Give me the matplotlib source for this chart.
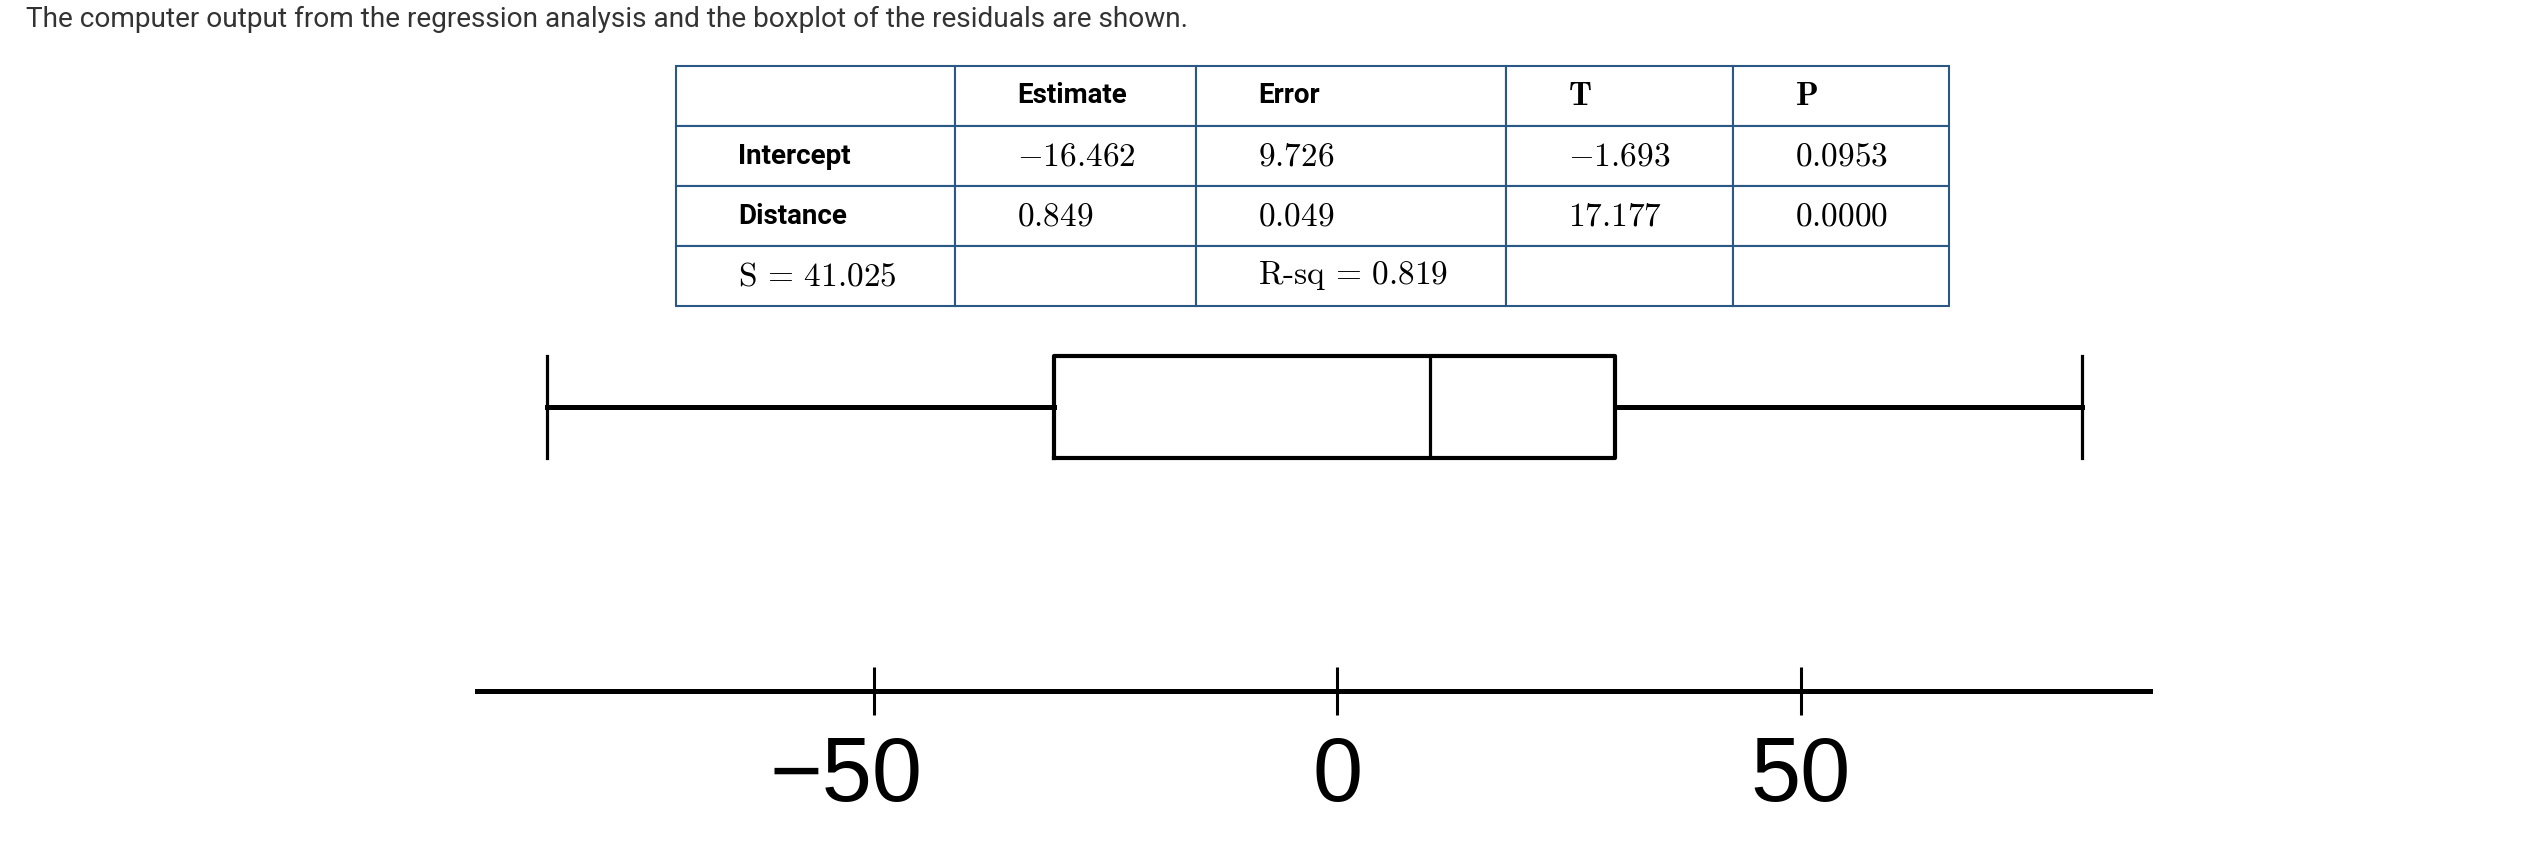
import matplotlib
matplotlib.use('Agg')
import matplotlib.pyplot as plt
import matplotlib.transforms as mtransforms

# regression output
terms = ['Intercept', 'Distance']
estimates = ['-16.462', '0.849']
std_errors = ['9.726', '0.049']
t_values = ['-1.693', '17.177']
p_values = ['0.0953', '0.0000']
s_value = '41.025'
r_sq = '0.819'
col_headers = ['', 'Estimate', 'Error', 'T', 'P']

# residual boxplot (five number summary)
resid_min = -85.3
resid_q1 = -30.5
resid_med = 10.0
resid_q3 = 30.0
resid_max = 80.4
tick_values = [-50, 0, 50]
tick_labels = ['\u221250', '0', '50']

plt.rcParams['mathtext.fontset'] = 'cm'

W, H = 2542, 856
fig = plt.figure(figsize=(W / 100, H / 100), dpi=100)

fig.text(26 / W, 1 - 19 / H,
         'The computer output from the regression analysis and the boxplot of the residuals are shown.',
         fontsize=20.2, family='Roboto', color='#333333', va='center', ha='left')

#%% table
tab_ax = fig.add_axes([0, 0, 1, 1])
tab_ax.axis('off')
tab_ax.set_xlim(0, 1)
tab_ax.set_ylim(0, 1)

def m(s):
    return '$' + s + '$'

cell_text = [col_headers]
for i in range(len(terms)):
    cell_text.append([terms[i], m(estimates[i]), m(std_errors[i]), m(t_values[i]), m(p_values[i])])
cell_text.append([r'$\mathrm{S}\,=\,' + s_value + '$', '', r'$\mathrm{R}\text{-}\mathrm{sq}\,=\,' + r_sq + '$', '', ''])

col_px = [279, 241, 310, 227, 216]
tab_left, tab_top, tab_bottom = 676, 66, 306
tab_w = sum(col_px)
tbl = tab_ax.table(cellText=cell_text, cellLoc='left',
                   colWidths=[c / tab_w for c in col_px],
                   bbox=[tab_left / W, 1 - tab_bottom / H, tab_w / W, (tab_bottom - tab_top) / H])
tbl.auto_set_font_size(False)
for (r, c), cell in tbl.get_celld().items():
    cell.set_edgecolor('#2b5986')
    cell.set_linewidth(1.5)
    cell.PAD = 62 / col_px[c]
    txt = cell.get_text()
    if (r == 0 and c in (1, 2)) or (c == 0 and r in (1, 2)):
        txt.set_fontfamily('Roboto')
        txt.set_fontweight('bold')
        txt.set_fontsize(20)
    elif r == 0 and c in (3, 4):
        txt.set_text(r'$\mathbf{' + col_headers[c] + '}$')
        txt.set_fontsize(24)
    else:
        txt.set_fontsize(24)

#%% boxplot + number line
ax_left, ax_right = 477, 2150
ax_top, ax_bot = 330, 691
ax = fig.add_axes([ax_left / W, 1 - ax_bot / H, (ax_right - ax_left) / W, (ax_bot - ax_top) / H])
ax.patch.set_alpha(0)

stats = [dict(whislo=resid_min, q1=resid_q1, med=resid_med, q3=resid_q3, whishi=resid_max, fliers=[])]
ax.bxp(stats, positions=[ax_bot - 407], widths=[102], capwidths=[102],
       orientation='horizontal', showfliers=False, manage_ticks=False,
       boxprops=dict(color='black', linewidth=3.0),
       whiskerprops=dict(color='black', linewidth=3.6),
       capprops=dict(color='black', linewidth=2.3),
       medianprops=dict(color='black', linewidth=2.3))

ax.set_xlim(-92.8, 87.7)
ax.set_ylim(0, ax_bot - ax_top)
for s in ['top', 'left', 'right']:
    ax.spines[s].set_visible(False)
ax.spines['bottom'].set_linewidth(3.6)
ax.set_yticks([])
ax.set_xticks(tick_values)
ax.set_xticklabels(tick_labels, family='Liberation Sans', fontsize=65)
ax.tick_params(axis='x', direction='inout', length=34.5, width=2.2, pad=14.5)

# the minus sign hangs to the left so the digits sit centred under the tick
neg = ax.get_xticklabels()[0]
neg.set_transform(neg.get_transform() + mtransforms.ScaledTranslation(-28 / 100, 0, fig.dpi_scale_trans))

fig.savefig('out.png', dpi=100)
